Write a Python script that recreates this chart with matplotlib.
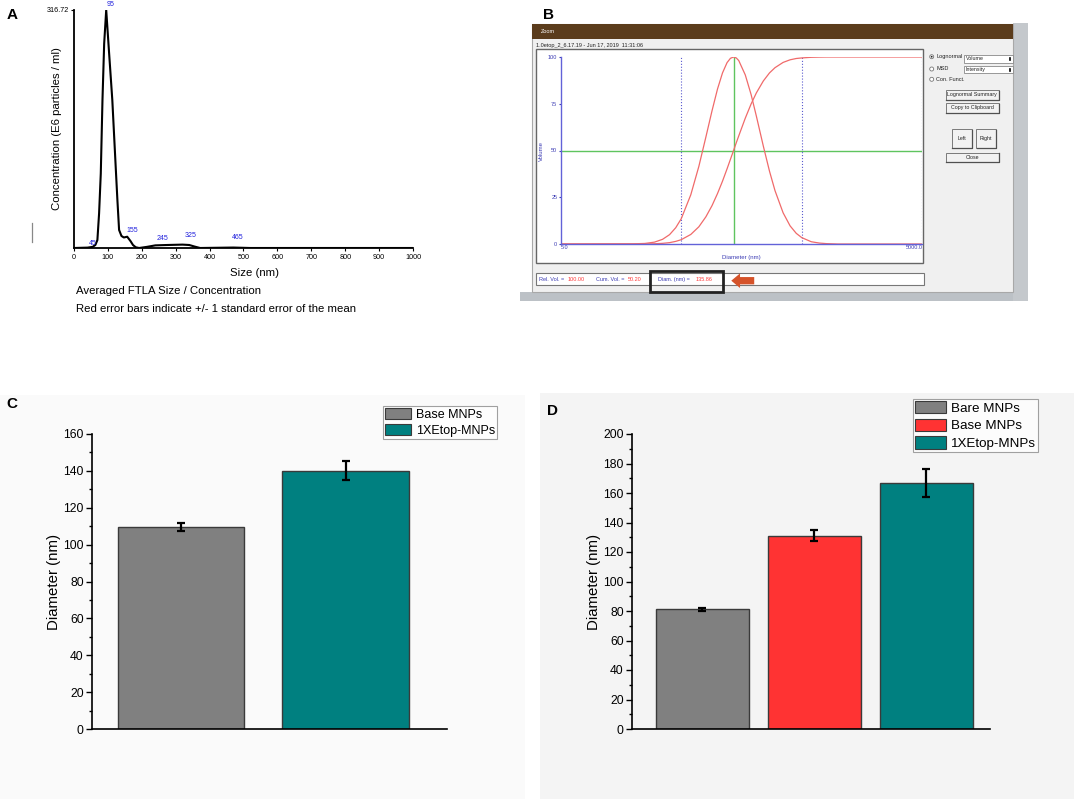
import matplotlib

matplotlib.use("Agg")
import matplotlib.pyplot as plt
from matplotlib.patches import Rectangle, Circle, Patch
from matplotlib.ticker import MultipleLocator

plt.rcParams["font.family"] = ["Liberation Sans", "DejaVu Sans"]

W, H = 1074, 799

# ---- panel A: NTA size distribution ----
size_nm = [0, 40, 55, 63, 69, 74, 79, 84, 89, 95, 103, 113, 123, 128, 133, 140,
           147, 157, 167, 174, 182, 192, 215, 240, 275, 320, 340, 355, 372, 470,
           520, 1000]
conc = [0, 0.5, 1.5, 4, 10.6, 46, 99, 197, 272, 316.72, 263, 197, 108, 64, 24, 16,
        14, 15, 9, 4, 1, 0, 1.5, 3.5, 4, 4.5, 4, 2, 0, 0.6,
        0, 0]
peak_labels = ["45", "95", "155", "245", "325", "465"]
peak_x = [45, 95, 155, 245, 325, 465]
peak_label_y = [1.3, 319.4, 18.6, 8.0, 12.0, 9.3]

# ---- panel B: lognormal fit screenshot ----
diam_nm = [5, 20, 25, 30, 35, 40, 45, 50, 60, 70, 80, 90, 100, 110, 120, 128,
           135.86, 143, 150, 170, 190, 210, 240, 270, 300, 350, 400, 450, 500,
           600, 700, 800, 1000, 5000]
rel_vol = [0, 0.1, 0.3, 1.0, 2.5, 5.0, 8.7, 13.5, 26.3, 41.5, 57.1, 71.2, 82.9,
           91.5, 97.0, 99.3, 100, 99.5, 98.1, 90.4, 79.9, 68.4, 52.3, 38.9, 28.5,
           16.7, 9.7, 5.7, 3.4, 1.2, 0.5, 0.2, 0, 0]
cum_vol = [0, 0, 0.02, 0.13, 0.35, 0.72, 1.4, 2.3, 5.1, 9.2, 14.5, 20.5, 27.0,
           33.6, 40.2, 45.3, 50, 54.1, 57.8, 67.3, 74.9, 80.8, 87.2, 91.5, 94.3,
           97.1, 98.5, 99.2, 99.5, 99.85, 99.95, 100, 100, 100]
median_diam = 135.86
cursor_lines = [50, 500, 5000]

# ---- panels C and D: mean diameters ----
c_labels = ["Base MNPs", "1XEtop-MNPs"]
c_means = [109.6, 140.2]
c_errs = [2.3, 5.0]
c_colors = ["#808080", "#008080"]

d_labels = ["Bare MNPs", "Base MNPs", "1XEtop-MNPs"]
d_means = [81.2, 131.1, 166.8]
d_errs = [1.0, 3.6, 9.3]
d_colors = ["#808080", "#ff3333", "#008080"]

BLUE = "#3c3cb4"
RED = "#f06a6a"


def px_rect(x0, y0, x1, y1):
    return [x0 / W, 1 - y1 / H, (x1 - x0) / W, (y1 - y0) / H]


fig = plt.figure(figsize=(W / 100, H / 100), dpi=100)
fig.patch.set_facecolor("white")

# overlay in pixel coordinates for backgrounds and screenshot chrome
ov = fig.add_axes([0, 0, 1, 1], zorder=-1)
ov.set_xlim(0, W)
ov.set_ylim(H, 0)
ov.axis("off")


def box(x0, y0, x1, y1, fc, ec="none", lw=0.8):
    ov.add_patch(Rectangle((x0, y0), x1 - x0, y1 - y0, facecolor=fc,
                           edgecolor=ec, linewidth=lw))


# panel backgrounds
box(0, 395, 525, 799, "#fafafa")
box(540, 393, 1074, 799, "#f4f4f4")

# panel labels
for lab, x, y in [("A", 12, 15), ("B", 548, 15), ("C", 12, 404), ("D", 552, 411)]:
    ov.text(x, y, lab, fontsize=11, fontweight="bold", ha="center", va="center")

# ---------------- panel A ----------------
axA = fig.add_axes(px_rect(74, 10, 413, 248))
axA.plot(size_nm, conc, color="black", lw=1.5)
axA.set_xlim(0, 1000)
axA.set_ylim(0, 316.72)
for s in ["top", "right"]:
    axA.spines[s].set_visible(False)
for s in ["left", "bottom"]:
    axA.spines[s].set_linewidth(1.3)
axA.set_xticks(range(0, 1001, 100))
axA.tick_params(axis="x", labelsize=5.2, length=2, pad=2)
axA.set_yticks([316.72])
axA.set_yticklabels(["316.72"])
axA.tick_params(axis="y", labelsize=5.2, length=2.5, pad=1)
axA.set_facecolor("none")
for lab, x, y in zip(peak_labels, peak_x, peak_label_y):
    axA.text(x, y, lab, color="#2222dd", fontsize=5, ha="left", va="bottom",
             clip_on=False)
ov.text(57, 129, "Concentration (E6 particles / ml)", rotation=90, fontsize=8.2,
        ha="center", va="center")
ov.text(254, 273, "Size (nm)", fontsize=8.2, ha="center", va="center")
ov.text(75.5, 291.5, "Averaged FTLA Size / Concentration", fontsize=8.2,
        ha="left", va="center")
ov.text(75.5, 308.5, "Red error bars indicate +/- 1 standard error of the mean",
        fontsize=8.2, ha="left", va="center")
ov.plot([31.7, 31.7], [223, 241.5], color="#888888", lw=0.9)

# ---------------- panel B (software window) ----------------
box(520, 292, 1028, 301, "#bcc1c6")
box(1013, 23, 1028, 301, "#c4c8cc")
box(531.7, 24, 1013, 292, "#f0f0f0", "#a8a8a8")
box(531.7, 24, 1013, 39, "#5b3c1c")
ov.text(540.5, 31.7, "Zoom", color="white", fontsize=4, va="center")
ov.text(535.7, 45, "1.0etop_2_6.17.19 - Jun 17, 2019  11:31:06", fontsize=4,
        color="#222222", va="center")
box(536, 49.3, 923.3, 262.7, "white", "#666666", 1.0)

# option controls
for i, (lab, y) in enumerate([("Lognormal", 56.7), ("MSD", 69), ("Con. Funct.", 79.3)]):
    ov.add_patch(Circle((931.7, y), 2.0, facecolor="white", edgecolor="#777777", lw=0.6))
    if i == 0:
        ov.add_patch(Circle((931.7, y), 0.9, facecolor="#222222", edgecolor="none"))
    ov.text(936.5, y, lab, fontsize=4, va="center", color="#222222")
for lab, y0, y1 in [("Volume", 55, 62.7), ("Intensity", 66, 73.3)]:
    box(964, y0, 1013, y1, "white", "#888888", 0.6)
    ov.text(966, (y0 + y1) / 2, lab, fontsize=3.8, va="center", color="#222222")
    ov.plot([1010, 1010], [(y0 + y1) / 2 - 1, (y0 + y1) / 2 + 1.5], color="black", lw=1.2)
for lab, x0, y0, x1, y1 in [("Lognormal Summary", 945.7, 90, 999, 99.5),
                            ("Copy to Clipboard", 945.7, 103, 999, 112.5),
                            ("Left", 951.7, 129, 972, 148),
                            ("Right", 976, 129, 995.7, 148),
                            ("Close", 945.7, 152.7, 999, 161.7)]:
    box(x0, y0, x1, y1, "#f2f2f2", "#7a7a7a", 0.7)
    ov.plot([x0 + 0.5, x1, x1], [y1, y1, y0 + 0.5], color="#505050", lw=0.9)
    ov.text((x0 + x1) / 2, (y0 + y1) / 2, lab, fontsize=3.8, ha="center",
            va="center", color="#222222")

# status line
box(536, 273, 924, 285, "white", "#777777", 0.8)
status = [("Rel. Vol. = ", 539, BLUE), ("100.00", 568, "#ff3b3b"),
          ("Cum. Vol. = ", 596, BLUE), ("50.20", 628, "#ff3b3b"),
          ("Diam. (nm) = ", 657.7, BLUE), ("135.86", 695.7, "#ff3b3b")]
for txt, x, col in status:
    ov.text(x, 279.8, txt, fontsize=4, color=col, va="center")
ov.add_patch(Rectangle((650, 270.7), 73, 21, facecolor="none", edgecolor="#222222", lw=2))
ov.annotate("", xy=(728.5, 280.7), xytext=(757, 280.7),
            arrowprops=dict(arrowstyle="simple,head_width=1.5,head_length=0.9,tail_width=0.75",
                            mutation_scale=7, color="#d5532a", lw=0))

axB = fig.add_axes(px_rect(560.7, 57, 922.3, 244))
axB.set_facecolor("none")
axB.set_xscale("log")
axB.axvline(median_diam, color="#5fc45f", lw=1.0)
axB.axhline(50, color="#5fc45f", lw=1.0)
for xv in cursor_lines:
    axB.axvline(xv, color="#5a5ad0", lw=0.8, ls=":")
axB.plot(diam_nm, rel_vol, color=RED, lw=0.9)
axB.plot(diam_nm, cum_vol, color=RED, lw=0.9)
axB.set_xlim(5, 5000)
axB.set_ylim(0, 100)
for s in ["top", "right"]:
    axB.spines[s].set_visible(False)
for s in ["left", "bottom"]:
    axB.spines[s].set_color("#6262d8")
    axB.spines[s].set_linewidth(1.0)
axB.set_yticks([0, 25, 50, 75, 100])
axB.tick_params(axis="y", labelsize=4, length=1.5, pad=1, colors=BLUE)
axB.minorticks_off()
axB.set_xticks([5, 5000])
axB.set_xticklabels(["5.0", "5000.0"])
axB.tick_params(axis="x", labelsize=4, length=0, pad=1, colors=BLUE)
xt = axB.get_xticklabels()
xt[0].set_ha("left")
xt[1].set_ha("right")
axB.set_xlabel("Diameter (nm)", fontsize=4.3, color=BLUE, labelpad=3)
ov.text(541.7, 150.7, "Volume", rotation=90, fontsize=4.3, color=BLUE,
        ha="center", va="center")


# ---------------- panels C and D ----------------
def bar_panel(rect, labels, means, errs, colors, width, xlim, ymax, legend_box,
              leg_font, leg_spacing, leg_handle):
    ax = fig.add_axes(rect)
    ax.set_facecolor("none")
    xs = list(range(1, len(means) + 1))
    ax.bar(xs, means, width=width, color=colors, edgecolor="#3a3a3a", linewidth=1.0)
    ax.errorbar(xs, means, yerr=errs, fmt="none", ecolor="black", elinewidth=1.6,
                capsize=3, capthick=1.6)
    ax.set_xlim(*xlim)
    ax.set_ylim(0, ymax)
    ax.set_xticks([])
    ax.yaxis.set_major_locator(MultipleLocator(20))
    ax.yaxis.set_minor_locator(MultipleLocator(10))
    ax.tick_params(axis="y", which="major", labelsize=8.7, length=4, width=1, pad=2)
    ax.tick_params(axis="y", which="minor", length=2.2, width=1)
    for s in ["top", "right"]:
        ax.spines[s].set_visible(False)
    for s in ["left", "bottom"]:
        ax.spines[s].set_linewidth(1.2)
    ax.set_ylabel("Diameter (nm)", fontsize=10.8, labelpad=1.5)
    handles = [Patch(facecolor=c, edgecolor="#3a3a3a", linewidth=0.8) for c in colors]
    x1, y0 = legend_box
    leg = ax.legend(handles, labels, loc="upper right",
                    bbox_to_anchor=(x1 / W, 1 - y0 / H), bbox_transform=fig.transFigure,
                    fontsize=leg_font, frameon=True, fancybox=False, borderaxespad=0,
                    borderpad=0.15, labelspacing=leg_spacing, handlelength=leg_handle,
                    handleheight=1.05, handletextpad=0.4)
    leg.get_frame().set_edgecolor("#8a8a8a")
    leg.get_frame().set_linewidth(0.8)
    return ax


bar_panel(px_rect(92, 434, 447, 729), c_labels, c_means, c_errs, c_colors,
          0.769, (0.458, 2.617), 160, (497, 406), 9, 0.22, 2.05)
bar_panel(px_rect(632, 434, 990, 729), d_labels, d_means, d_errs, d_colors,
          0.83, (0.371, 3.567), 200, (1038, 399), 9.6, 0.3, 2.3)

fig.savefig("out.png", dpi=100)
